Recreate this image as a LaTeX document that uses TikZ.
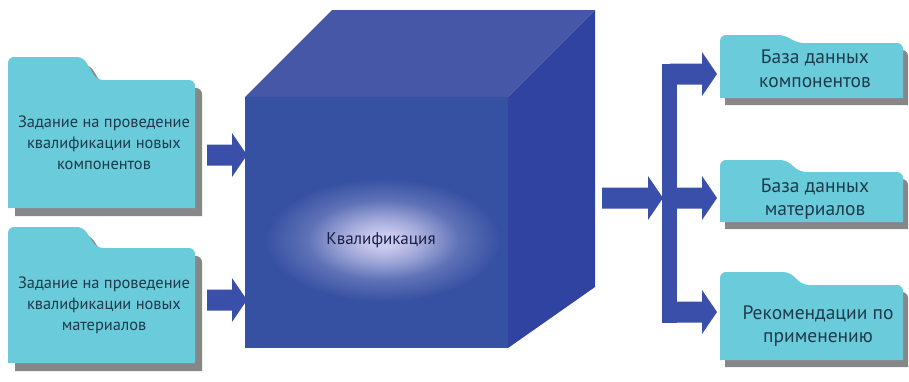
\documentclass[tikz,border=0pt]{standalone}
\usepackage{fontspec}
\setmainfont{PT Sans}
\definecolor{frontc}{HTML}{3650A2}
\definecolor{topc}{HTML}{4757A8}
\definecolor{sidec}{HTML}{3043A0}
\definecolor{glowc}{HTML}{CACAEE}
\definecolor{arrowc}{HTML}{3A4FAA}
\definecolor{folderc}{HTML}{6ACBDA}
\definecolor{shadowc}{HTML}{878787}
\definecolor{labelc}{HTML}{1F3A4C}
\definecolor{corec}{HTML}{1A1F45}
\pgfdeclareradialshading{glow}{\pgfpoint{0bp}{0bp}}{%
  color(0bp)=(glowc); color(3bp)=(glowc); color(9bp)=(glowc!70!frontc);
  color(16bp)=(glowc!28!frontc); color(25bp)=(frontc); color(50bp)=(frontc)}
% folder outline: left, right, tab top, body top, bottom, end of tab
\newcommand\folderpath[6]{%
  (#1,#5) [rounded corners=6pt] -- (#1,#3) -- (#6-14,#3) -- (#6,#4)
  -- (#2,#4) [sharp corners] -- (#2,#5) -- cycle}
% right-pointing block arrow: tail x, tip x, centre y
\newcommand\blockarrow[3]{%
  \fill[arrowc] (#1,#3-10.5) -- (#2-15,#3-10.5) -- (#2-15,#3-22) -- (#2,#3)
    -- (#2-15,#3+22) -- (#2-15,#3+10.5) -- (#1,#3+10.5) -- cycle;}
\begin{document}
\begin{tikzpicture}[x=1pt,y=-1pt,
  foldertext/.style={text=labelc,align=center,font=\fontsize{16.4}{21}\selectfont},
  boxtext/.style={text=labelc,align=center,font=\fontsize{19.5}{23.5}\selectfont}]
\useasboundingbox (0,0) rectangle (909,381);

% the cube
\coordinate (ftl) at (245,97);
\coordinate (ftr) at (508,97);
\coordinate (fbr) at (508,348);
\coordinate (fbl) at (245,348);
\coordinate (btl) at (332,10);
\coordinate (btr) at (595,10);
\coordinate (bbr) at (595,287);
\fill[topc] (ftl) -- (btl) -- (btr) -- (ftr) -- cycle;
\fill[sidec] (ftr) -- (btr) -- (bbr) -- (fbr) -- cycle;
\fill[frontc] (ftl) rectangle (fbr);
\shade[shading=glow] (383,240) ellipse (118pt and 62pt);
\node[text=corec,font=\fontsize{17}{20}\selectfont] (core) at (381,240) {Квалификация};

% input folders
\fill[shadowc] [shift={(7pt,-8pt)}] \folderpath{8}{195}{57}{80}{208}{97};
\fill[folderc] \folderpath{8}{195}{57}{80}{208}{97};
\node[foldertext] (in1) at (104,143) {Задание на проведение\\квалификации новых\\компонентов};

\fill[shadowc] [shift={(7pt,-8pt)}] \folderpath{8}{195}{227}{248}{363}{97};
\fill[folderc] \folderpath{8}{195}{227}{248}{363}{97};
\node[foldertext] (in2) at (104,305) {Задание на проведение\\квалификации новых\\материалов};

% output folders
\fill[shadowc] [shift={(5pt,-7pt)}] \folderpath{720}{903}{35}{43}{98}{798};
\fill[folderc] \folderpath{720}{903}{35}{43}{98}{798};
\node[boxtext] (out1) at (815,69) {База данных\\компонентов};

\fill[shadowc] [shift={(5pt,-7pt)}] \folderpath{720}{903}{160}{172}{222}{800};
\fill[folderc] \folderpath{720}{903}{160}{172}{222}{800};
\node[boxtext] (out2) at (815,199) {База данных\\материалов};

\fill[shadowc] [shift={(5pt,-7pt)}] \folderpath{720}{903}{272}{285}{360}{803};
\fill[folderc] \folderpath{720}{903}{272}{285}{360}{803};
\node[boxtext] (out3) at (818,326) {Рекомендации по\\применению};

% inputs into the cube
\blockarrow{207}{247}{155}
\blockarrow{207}{247}{300}

% output trunk and its branches
\blockarrow{602}{663}{198}
\fill[arrowc] (662,63.5) rectangle (677,322.5);
\blockarrow{670}{717}{74}
\blockarrow{670}{717}{198}
\blockarrow{670}{717}{312}
\end{tikzpicture}
\end{document}
